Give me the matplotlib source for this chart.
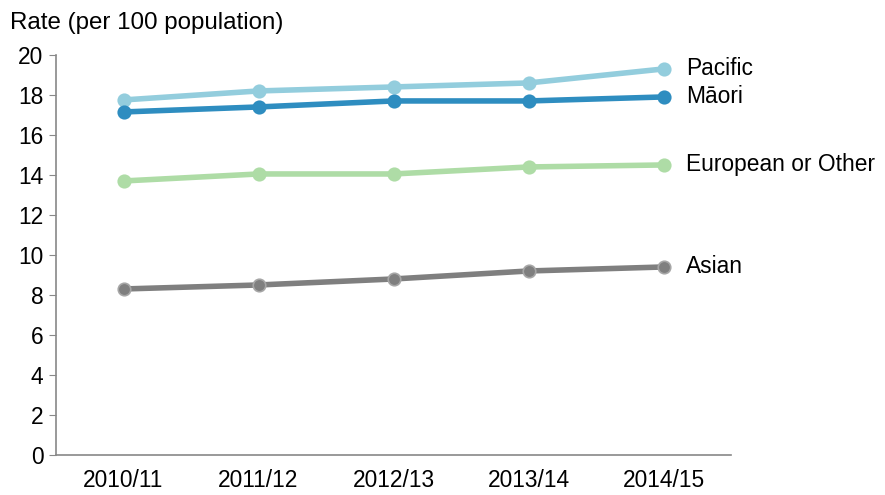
import matplotlib
matplotlib.use("Agg")
import matplotlib.pyplot as plt

plt.rcParams['font.family'] = ['Liberation Sans', 'DejaVu Sans']

years = ["2010/11", "2011/12", "2012/13", "2013/14", "2014/15"]
pacific = [17.75, 18.2, 18.4, 18.6, 19.3]
maori = [17.15, 17.4, 17.7, 17.7, 17.9]
european = [13.7, 14.05, 14.05, 14.4, 14.5]
asian = [8.3, 8.5, 8.8, 9.2, 9.4]

series = [
    ("Pacific", pacific, "#93CDDD", "#93CDDD"),
    ("Māori", maori, "#2E8DC0", "#2E8DC0"),
    ("European or Other", european, "#AEDCA6", "#AEDCA6"),
    ("Asian", asian, "#7F7F7F", "#A6A6A6"),
]

FS = 16.4
fig = plt.figure(figsize=(8.85, 4.95), dpi=100)
ax = fig.add_axes([0.0633, 0.0808, 0.7627, 0.8082])
x = list(range(len(years)))
for name, vals, col, ec in series:
    ax.plot(x, vals, color=col, lw=4, marker='o', ms=9, mfc=col, mec=ec, mew=1.2,
            solid_capstyle='round', zorder=3)
    ax.annotate(name, xy=(x[-1], vals[-1]), xytext=(16, 0), textcoords='offset points',
                va='center', ha='left', fontsize=FS, annotation_clip=False)

ax.set_xlim(-0.5, len(years) - 0.5)
ax.set_ylim(0, 20)
ax.set_yticks(range(0, 21, 2))
ax.set_xticks(x)
ax.set_xticklabels(years)
ax.tick_params(axis='y', length=5, color='#888888', labelsize=FS, pad=4)
ax.tick_params(axis='x', length=0, labelsize=FS, pad=10)
for s in ['top', 'right']:
    ax.spines[s].set_visible(False)
for s in ['left', 'bottom']:
    ax.spines[s].set_color('#888888')
    ax.spines[s].set_linewidth(1.2)
fig.text(0.011, 0.975, "Rate (per 100 population)", fontsize=17.4, va='top', ha='left')
fig.savefig("out.png", dpi=100)
